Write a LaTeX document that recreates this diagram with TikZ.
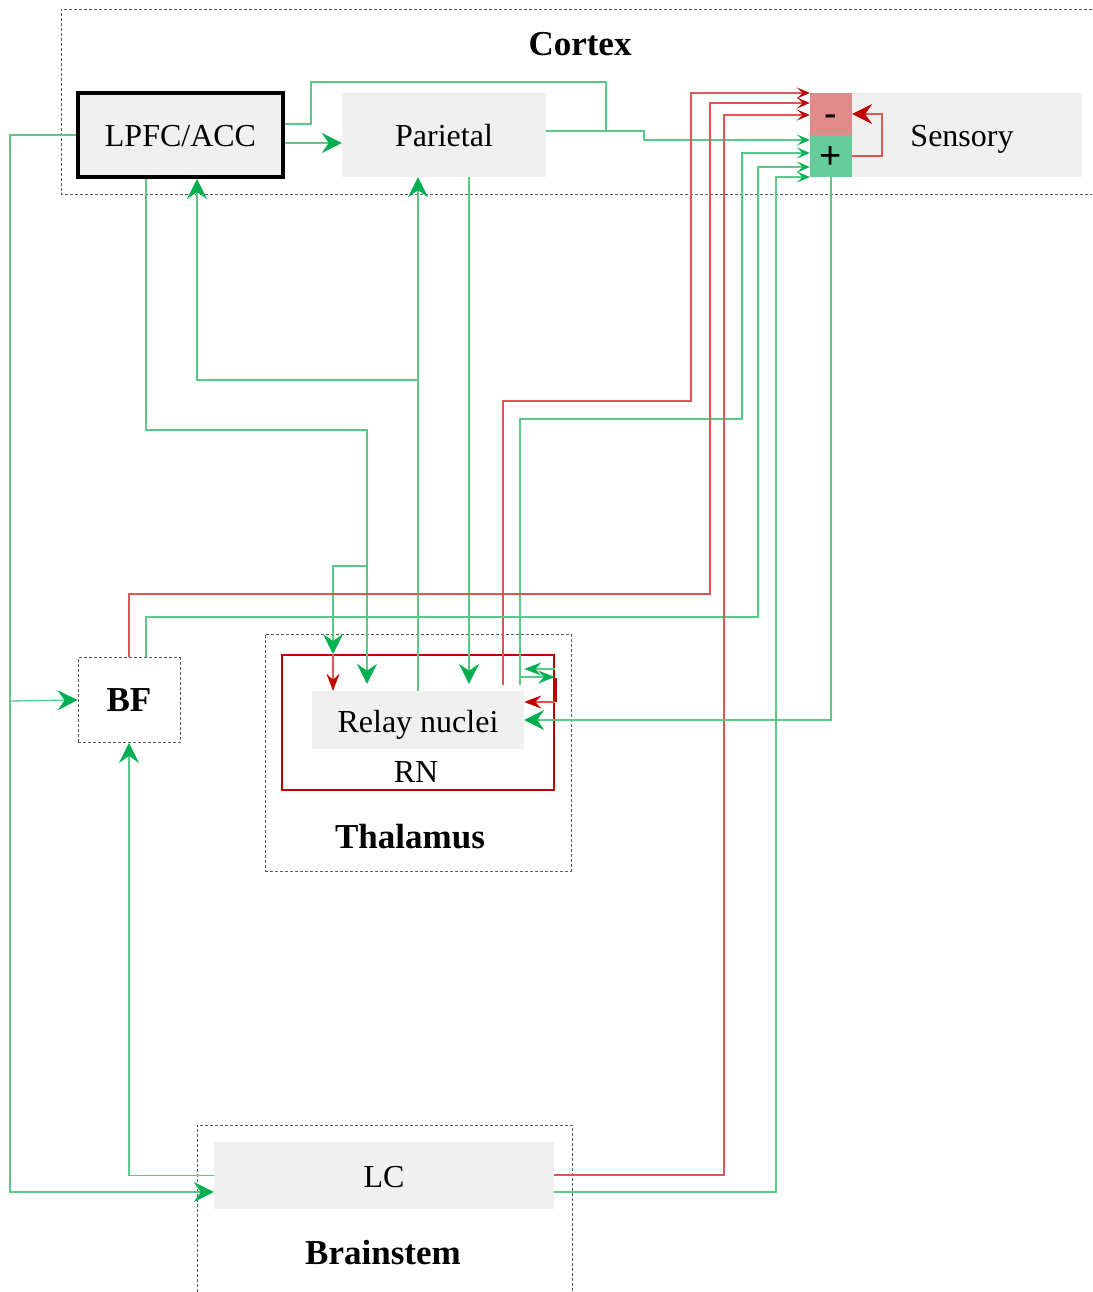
\documentclass[tikz,border=0pt]{standalone}
\usepackage{fontspec}
\setmainfont{Liberation Serif}
\newfontfamily\mysans{Liberation Sans}
\usetikzlibrary{arrows.meta}
\definecolor{gline}{RGB}{90,200,135}
\definecolor{gtip}{RGB}{0,176,80}
\definecolor{rline}{RGB}{225,85,85}
\definecolor{rtip}{RGB}{192,0,0}
\definecolor{boxgray}{RGB}{240,240,240}
\definecolor{minusc}{RGB}{224,138,138}
\definecolor{plusc}{RGB}{102,204,153}
\definecolor{dgray}{RGB}{90,90,90}
\newcommand\myreg{\fontsize{32}{36}\selectfont}
\newcommand\mybold{\fontsize{35}{40}\selectfont\bfseries}
\tikzset{
 gl/.style={draw=gline, line width=1.3pt},
 rl/.style={draw=rline, line width=1.3pt},
 gbig/.style={gl, -{Stealth[length=20pt,width=20pt,inset=7pt,color=gtip]}},
 gmid/.style={gl, -{Stealth[length=17pt,width=13pt,inset=6pt,color=gtip]}},
 gsm/.style={gl, -{Stealth[length=13pt,width=11pt,inset=6pt,color=gtip]}},
 rbig/.style={rl, -{Stealth[length=20pt,width=20pt,inset=7pt,color=rtip]}},
 rmid/.style={rl, -{Stealth[length=17pt,width=13pt,inset=6pt,color=rtip]}},
 rsm/.style={rl, -{Stealth[length=13pt,width=11pt,inset=6pt,color=rtip]}},
 graybox/.style={rectangle, fill=boxgray, inner sep=0pt, font=\myreg, text height=24pt, text depth=0pt},
 dbox/.style={draw=dgray, dash pattern=on 3pt off 2pt, line width=0.8pt},
 lab/.style={inner sep=0pt, font=\mybold},
 sign/.style={rectangle, inner sep=0pt, minimum width=42pt, minimum height=42pt, text height=26pt, text depth=0pt, font=\mysans\fontsize{38}{38}\selectfont},
}
\begin{document}
\begin{tikzpicture}[x=1pt,y=-1pt]
\useasboundingbox (0,0) rectangle (1092,1292);
\fill[white] (0,0) rectangle (1092,1292);
% regions
\draw[dbox] (1092,9) -- (61,9) -- (61,194) -- (1092,194);
\node[lab] (cortex) at (580,44) {Cortex};
\draw[dbox] (197,1292) -- (197,1125) -- (572,1125) -- (572,1292);
\node[lab] (brainstem) at (383,1253) {Brainstem};
\node[dbox, rectangle, minimum width=306pt, minimum height=237pt, inner sep=0pt] (thal) at (418,752.5) {};
\node[lab] (thallab) at (410,837) {Thalamus};
% nodes
\node[graybox, draw=black, line width=4pt, minimum width=205pt, minimum height=84pt] (lpfc) at (180.5,135) {LPFC/ACC};
\node[graybox, minimum width=204pt, minimum height=84pt] (parietal) at (444,135) {Parietal};
\node[graybox, minimum width=230pt, minimum height=84pt] (sensory) at (967,135) {\hspace*{-10pt}Sensory};
\node[sign, fill=minusc] (minus) at (831,114) {-};
\node[sign, fill=plusc] (plus) at (831,156) {+};
\node[dbox, rectangle, minimum width=102pt, minimum height=85pt, inner sep=0pt, font=\mybold] (bf) at (129,700) {BF};
\node[rectangle, draw=rtip, line width=2pt, minimum width=272pt, minimum height=135pt, inner sep=0pt] (rn) at (418,722.5) {};
\node[inner sep=0pt, font=\myreg] (rnlab) at (416,772) {RN};
\node[graybox, minimum width=212pt, minimum height=58pt] (relay) at (418,720) {Relay nuclei};
\node[graybox, minimum width=340pt, minimum height=67pt] (lc) at (384,1175.5) {LC};
% junctions
\coordinate (j1) at (418,380);
\coordinate (j2) at (367,566);
\coordinate (j3) at (10,701);
\coordinate (j4) at (606,131);
\coordinate (j5) at (520,677);
% connectors
\draw[gbig] (lpfc.east |- 0,143) -- (parietal.west |- 0,143);
\draw[gsm] (lpfc.east |- 0,124) -| (311,82) -| (j4) -- (644,131) |- (plus.west |- 0,140);
\draw[gl] (parietal.east |- 0,131) -- (j4);
\draw[gbig, shorten >=7pt] (parietal.south -| 469,0) -- (relay.north -| 469,0);
\draw[gbig] (relay.north) -- (relay.north |- parietal.south);
\draw[gbig] (j1) -| (lpfc.south -| 197,0);
\draw[gbig, shorten >=7pt] (lpfc.south -| 146,0) |- (367,430) -- (relay.north -| 367,0);
\draw[gbig] (j2) -| (rn.north -| 333,0);
\draw[rmid] (rn.north -| 333,0) -- (relay.north -| 333,0);
\draw[rsm, shorten <=6pt] (relay.north -| 503,0) |- (691,401) |- (minus.west |- 0,93);
\draw[gsm, shorten <=6pt] (relay.north -| 520,0) |- (742,419) |- (plus.west |- 0,153);
\draw[rsm] (bf.north) |- (710,594) |- (minus.west |- 0,103);
\draw[gsm] (bf.north -| 146,0) |- (758,617) |- (plus.west |- 0,167);
\draw[rsm] (lc.east |- 0,1175) -| (724,115) -- (minus.west |- 0,115);
\draw[gsm] (lc.east |- 0,1192) -| (776,177) -- (plus.west |- 0,177);
\draw[gbig] (plus.south) |- (relay.east);
\draw[rbig] (plus.east) -| (882,114) -- (minus.east);
\draw[gbig] (lpfc.west) -| (j3) |- (lc.west |- 0,1192);
\draw[gbig] (j3) -- (bf.west);
\draw[gbig] (lc.west) -| (bf.south);
% inside RN
\draw[gmid] (rn.east |- 0,669) -- (relay.east |- 0,669);
\draw[gmid] (j5) -- (rn.east |- 0,677);
\draw[draw=rtip, line width=4pt] (rn.east |- 0,678) -- (rn.east |- 0,702);
\draw[rmid] (rn.east |- 0,702) -- (relay.east |- 0,702);
\end{tikzpicture}
\end{document}
